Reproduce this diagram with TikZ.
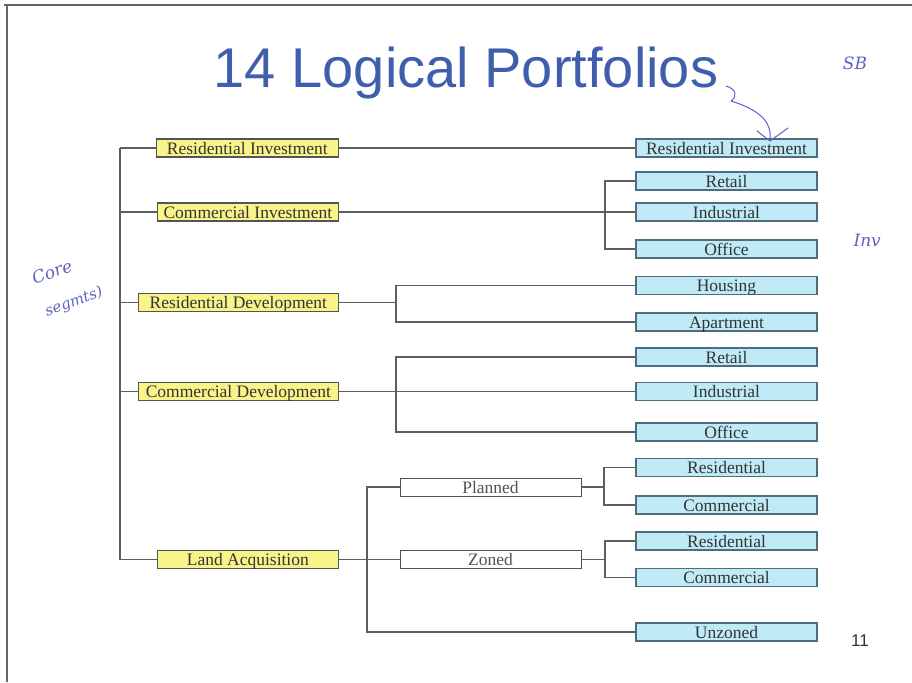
\documentclass[tikz,border=0pt]{standalone}
\usepackage{fontspec}
\setmainfont{Liberation Serif}
\newfontfamily\titlefont{Liberation Sans}
\newfontfamily\handfont{DejaVu Serif}
\definecolor{ylw}{HTML}{F9F48A}
\definecolor{cyanfill}{HTML}{BFEAF6}
\definecolor{boxline}{HTML}{545454}
\definecolor{cyanline}{HTML}{4E6E7E}
\definecolor{txt}{HTML}{333333}
\definecolor{ttl}{HTML}{3F5EAC}
\definecolor{ink}{HTML}{5C62C4}
\definecolor{conncol}{HTML}{5E5E5E}
\begin{document}
\begin{tikzpicture}[x=1pt,y=-1pt,
  boxtext/.style={inner sep=0pt, text height=12pt, text depth=0pt, font=\fontsize{17.5}{18}\selectfont},
  ybox/.style={boxtext, draw=boxline, line width=1.3pt, fill=ylw, minimum height=18pt, anchor=east, text=txt},
  cbox/.style={boxtext, draw=cyanline, line width=1.3pt, fill=cyanfill, minimum width=181pt, minimum height=18pt, text=txt},
  wbox/.style={boxtext, draw=boxline, line width=1pt, fill=white, minimum width=181pt, minimum height=18pt, text=txt!85},
  conn/.style={draw=conncol, line width=1.1pt},
  hand/.style={text=ink, font=\handfont\itshape\fontsize{17}{18}\selectfont},
  inkline/.style={draw=ink, line width=1pt, line cap=round, line join=round}]
\useasboundingbox (0,0) rectangle (912,682);
\fill[white] (0,0) rectangle (912,682);
% slide frame
\draw[draw=gray!80!black, line width=1.6pt] (4,5) -- (912,5);
\draw[draw=gray!80!black, line width=2pt] (7,5) -- (7,682);

% title
\node[font=\titlefont\fontsize{56}{60}\selectfont, text=ttl, anchor=base] (title) at (466,88) {14 Logical Portfolios};

% left column (yellow)
\node[ybox, minimum width=182pt] (ri) at (339,148) {Residential Investment};
\node[ybox, minimum width=181pt] (ci) at (339,212) {Commercial Investment};
\node[ybox, minimum width=200pt] (rd) at (339,302.5) {Residential Development};
\node[ybox, minimum width=200pt] (cd) at (339,391.5) {Commercial Development};
\node[ybox, minimum width=181pt] (la) at (339,559.5) {Land Acquisition};

% middle (white)
\node[wbox] (pla) at (490.5,487) {Planned};
\node[wbox] (zon) at (490.5,559.5) {Zoned};

% right column (cyan)
\node[cbox] (bri)  at (726.5,148)   {Residential Investment};
\node[cbox] (bret) at (726.5,181)   {Retail};
\node[cbox] (bind) at (726.5,212)   {Industrial};
\node[cbox] (boff) at (726.5,249)   {Office};
\node[cbox] (bhou) at (726.5,285.5) {Housing};
\node[cbox] (bapt) at (726.5,322)   {Apartment};
\node[cbox] (bret2) at (726.5,357)  {Retail};
\node[cbox] (bind2) at (726.5,391.5){Industrial};
\node[cbox] (boff2) at (726.5,432)  {Office};
\node[cbox] (bres) at (726.5,467.5) {Residential};
\node[cbox] (bcom) at (726.5,505)   {Commercial};
\node[cbox] (bres2) at (726.5,541)  {Residential};
\node[cbox] (bcom2) at (726.5,577.5){Commercial};
\node[cbox] (bunz) at (726.5,632)   {Unzoned};

% page number
\node[font=\titlefont\fontsize{17}{18}\selectfont, text=txt] (pg) at (860,641) {11};

% bracket x positions
\coordinate (tx) at (120,0);
\coordinate (cx) at (605,0);
\coordinate (rx) at (396,0);
\coordinate (dx) at (396,0);
\coordinate (lx) at (367,0);
\coordinate (px) at (604,0);
\coordinate (zx) at (605,0);

% trunk
\draw[conn] (tx |- ri.west) -- (tx |- la.west);
\foreach \n in {ri,ci,rd,cd,la} \draw[conn] (tx |- \n.west) -- (\n.west);

% residential investment
\draw[conn] (ri.east) -- (bri.west);
% commercial investment
\draw[conn] (ci.east) -- (bind.west);
\draw[conn] (bret.west) -- (cx |- bret.west) -- (cx |- boff.west) -- (boff.west);
% residential development
\draw[conn] (rd.east) -- (rx |- rd.east);
\draw[conn] (bhou.west) -- (rx |- bhou.west) -- (rx |- bapt.west) -- (bapt.west);
% commercial development
\draw[conn] (cd.east) -- (bind2.west);
\draw[conn] (bret2.west) -- (dx |- bret2.west) -- (dx |- boff2.west) -- (boff2.west);
% land acquisition
\draw[conn] (la.east) -- (zon.west);
\draw[conn] (pla.west) -- (lx |- pla.west) -- (lx |- bunz.west) -- (bunz.west);
% planned
\draw[conn] (pla.east) -- (px |- pla.east);
\draw[conn] (bres.west) -- (px |- bres.west) -- (px |- bcom.west) -- (bcom.west);
% zoned
\draw[conn] (zon.east) -- (zx |- zon.east);
\draw[conn] (bres2.west) -- (zx |- bres2.west) -- (zx |- bcom2.west) -- (bcom2.west);

% handwritten notes
\node[hand, rotate=20, inner sep=0pt] (n1) at (52,272) {Core};
\node[hand, rotate=20, inner sep=0pt, font=\handfont\itshape\fontsize{15}{16}\selectfont] (n2) at (74,302) {segmts)};
\node[hand] (n3) at (855,63) {SB};
\node[hand, anchor=west] (n4) at (850,240) {Inv};
\draw[inkline] (726,86) .. controls (736,89) and (738,96) .. (731,101)
  .. controls (760,110) and (772,122) .. (770,140);
\draw[inkline] (757,131) -- (770,141) -- (788,128);
\end{tikzpicture}
\end{document}
